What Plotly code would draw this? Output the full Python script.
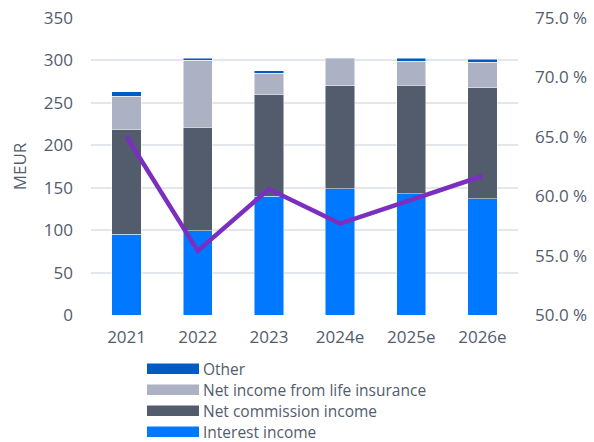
import plotly.graph_objects as go

years = ["2021", "2022", "2023", "2024e", "2025e", "2026e"]
interest_income = [95, 99, 140, 148.5, 143, 137]
net_commission = [124, 122, 120, 121.7, 128, 131]
life_insurance = [39, 79, 25, 31.5, 28, 30]
other = [5, 2.5, 3, 0.7, 3.5, 3.6]
cost_income_ratio = [65.0, 55.4, 60.6, 57.7, 59.7, 61.7]

series_names = ["Interest income", "Net commission income", "Net income from life insurance", "Other"]
series_values = [interest_income, net_commission, life_insurance, other]
series_colors = ["#0078FF", "#525C6D", "#ACB1C3", "#005BC4"]

text_color = "#525C6D"
font_family = "'Open Sans', sans-serif"
fs = 17

fig = go.Figure()
for name, vals, col in zip(series_names, series_values, series_colors):
    fig.add_trace(go.Bar(x=years, y=vals, name=name, marker=dict(color=col, line=dict(width=0.8, color="rgba(255,255,255,0.6)")),
                         showlegend=False))

fig.add_trace(go.Scatter(x=years, y=cost_income_ratio, mode="lines", yaxis="y2",
                         line=dict(color="#7A2FBE", width=4.5), showlegend=False))

# custom legend (wide swatches)
legend_rows = list(zip(series_names, series_colors))[::-1]
y0 = 368.5
for i, (name, col) in enumerate(legend_rows):
    yc = y0 + i * 21
    fig.add_shape(type="rect", xref="paper", yref="paper",
                  x0=(147 - 91) / 427, x1=(199 - 91) / 427,
                  y0=(315 - (yc + 5.5)) / 297, y1=(315 - (yc - 5)) / 297,
                  fillcolor=col, line=dict(width=0))
    fig.add_annotation(xref="paper", yref="paper", x=(202 - 91) / 427, y=(315 - yc) / 297,
                       text=name, showarrow=False, xanchor="left", yanchor="middle",
                       borderpad=0,
                       font=dict(size=15.5, color=text_color, family=font_family))

fig.update_layout(
    width=594, height=442,
    margin=dict(l=91, r=76, t=18, b=127),
    barmode="stack", bargap=0.59,
    plot_bgcolor="white", paper_bgcolor="white",
    font=dict(family=font_family, color=text_color, size=fs),
    xaxis=dict(showgrid=False, tickfont=dict(size=fs, color=text_color), ticks="", ticklabelstandoff=10,
               automargin=False),
    yaxis=dict(range=[0, 350], dtick=50, gridcolor="#E3E6EA", gridwidth=2, zeroline=False, automargin=False,
               tickfont=dict(size=fs, color=text_color), ticklabelstandoff=17,
               title=dict(text="MEUR", font=dict(size=fs, color=text_color), standoff=12)),
    yaxis2=dict(range=[50, 75], dtick=5, overlaying="y", side="right", showgrid=False, zeroline=False,
                automargin=False,
                tickformat=".1f", ticksuffix=" %", tickfont=dict(size=fs, color=text_color), ticklabelstandoff=16),
)

fig.write_html("out.html")
